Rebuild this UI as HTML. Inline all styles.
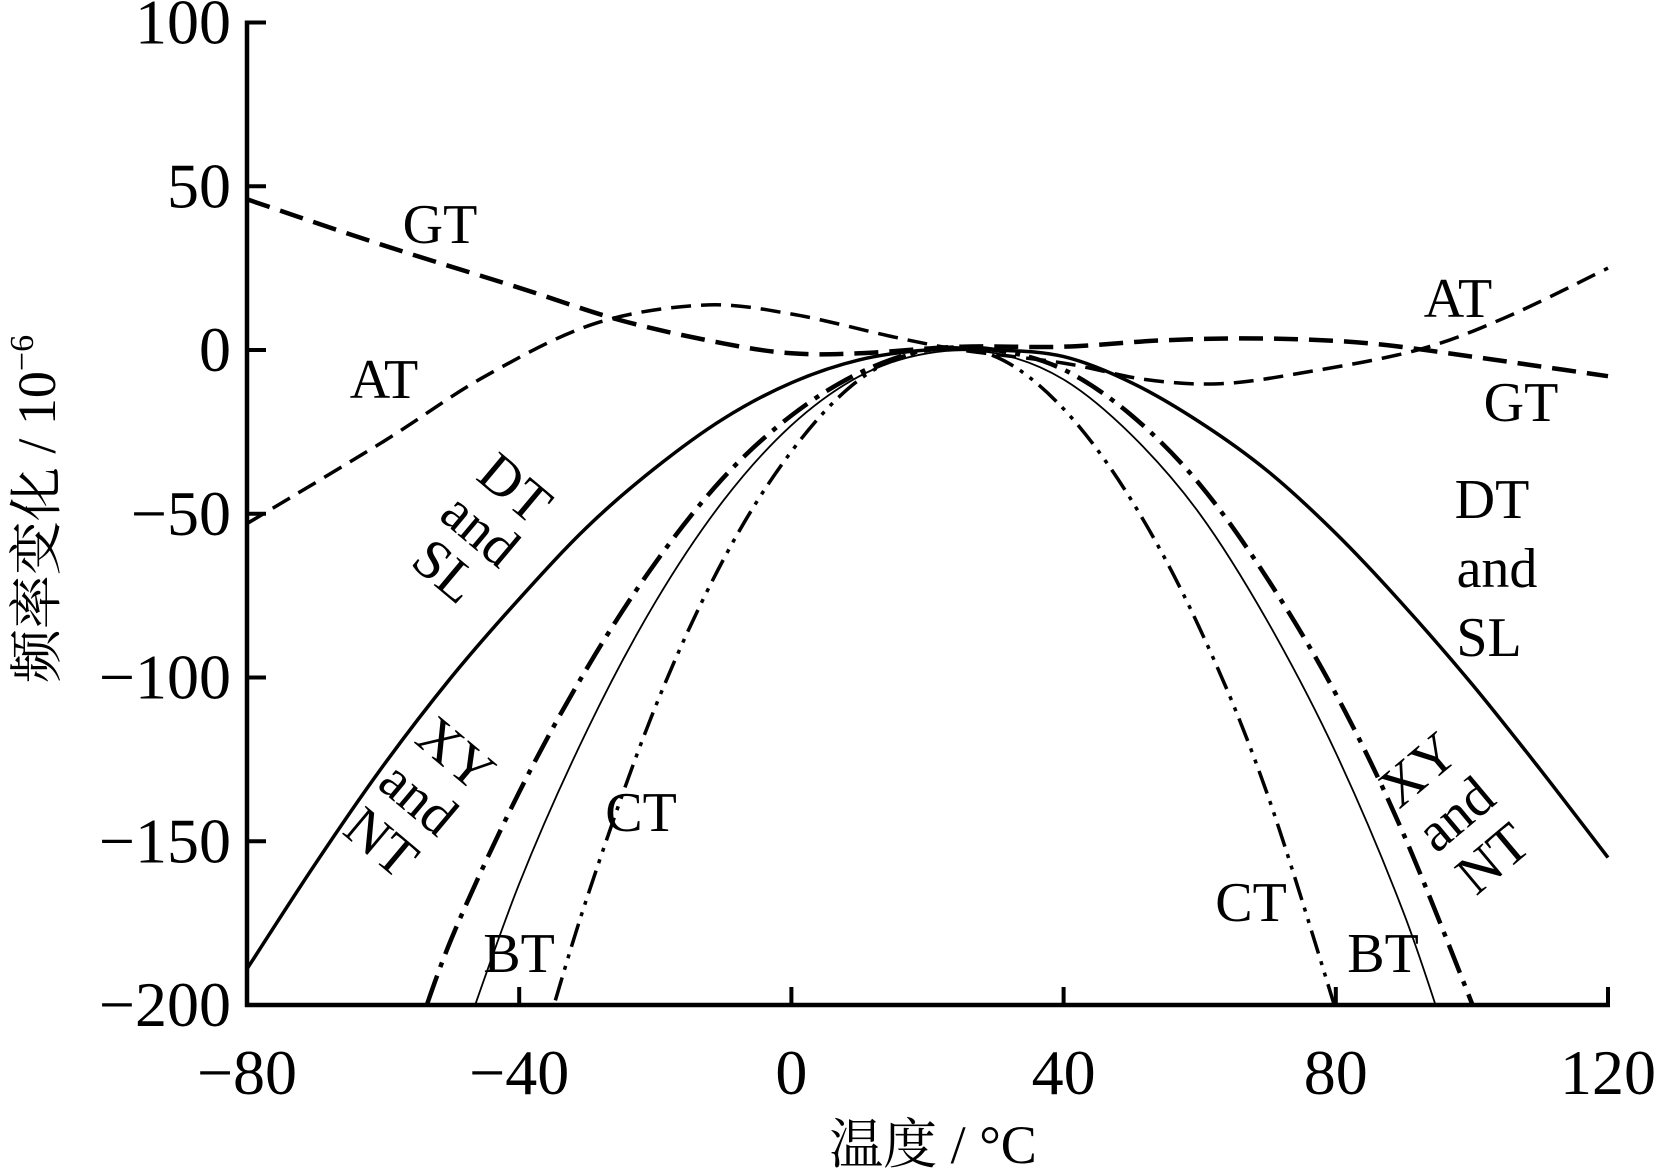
<!DOCTYPE html>
<html><head><meta charset="utf-8"><style>
html,body{margin:0;padding:0;background:#fff;}
svg{display:block;}
text{font-family:"Liberation Serif","Noto Serif CJK SC","Noto Sans CJK SC",serif;fill:#000;}
</style></head><body>
<svg id="chart" width="1660" height="1172" viewBox="0 0 1660 1172" xmlns="http://www.w3.org/2000/svg">
<defs><clipPath id="plotClip"><rect x="247" y="22" width="1363" height="983"/></clipPath></defs>
<g id="curves" clip-path="url(#plotClip)"></g>
<g id="axes"></g>
<g font-size="56">
<text x="440" y="243" text-anchor="middle">GT</text>
<text x="384" y="398" text-anchor="middle">AT</text>
<text x="1458" y="317" text-anchor="middle">AT</text>
<text x="1521" y="421" text-anchor="middle">GT</text>
<g transform="translate(480,530) rotate(40)">
<text x="0" y="-36" text-anchor="middle">DT</text><text x="0" y="18" text-anchor="middle">and</text><text x="0" y="72" text-anchor="middle">SL</text></g>
<g>
<text x="1492" y="518" text-anchor="middle">DT</text><text x="1497" y="587" text-anchor="middle">and</text><text x="1489" y="656" text-anchor="middle">SL</text></g>
<g transform="translate(417,800) rotate(40)">
<text x="0" y="-42" text-anchor="middle">XY</text><text x="0" y="16" text-anchor="middle">and</text><text x="0" y="74" text-anchor="middle">NT</text></g>
<g transform="translate(1457,816) rotate(-40)">
<text x="0" y="-42" text-anchor="middle">XY</text><text x="0" y="16" text-anchor="middle">and</text><text x="0" y="74" text-anchor="middle">NT</text></g>
<text x="641" y="831" text-anchor="middle">CT</text>
<text x="519" y="972" text-anchor="middle">BT</text>
<text x="1251" y="921" text-anchor="middle">CT</text>
<text x="1383" y="972" text-anchor="middle">BT</text>
</g>
<text font-size="54" text-anchor="middle" transform="translate(55,509) rotate(-90)">频率变化 / 10<tspan font-size="34" dy="-22">−6</tspan></text>
<text font-size="54" x="933" y="1163" text-anchor="middle">温度 / °C</text>
</svg>
<script>
const xTicks=[-80,-40,0,40,80,120];
const yTicks=[100,50,0,-50,-100,-150,-200];
const gtX=[-80,-60,-40,-25,-10,0,10,25,40,55,70,85,100,110,120];
const gtY=[46,32,19,9,2,-1,-1,1,1,3,3.5,2,-2,-5,-8];
const atX=[-80,-60,-45,-29,-13,0,15,25,40,52,63,75,92,105,120];
const atY=[-53,-28,-8,8,13.7,11,4,0,-4,-9,-10.3,-7,0,10,25];
const dtX=[-80,-70,-60,-50,-40,-30,-20,-10,0,10,20,30,40,50,60,70,80,90,100,110,120];
const dtY=[-189,-157,-127,-100,-76,-54,-36,-21,-10,-3,0,0,-2,-10,-22,-37,-56,-78,-102,-128,-155];
const xyX=[-56,-50,-40,-30,-20,-10,0,10,20,30,40,50,60,70,80,90,102];
const xyY=[-215,-180,-135,-97,-65,-39,-20,-7,0,0,-6,-20,-41,-70,-105,-148,-210];
const btX=[-49,-40,-30,-20,-10,0,10,20,30,40,50,60,70,80,90,97];
const btY=[-215,-163,-116,-77,-46,-23,-8,-1,-1,-9,-26,-50,-83,-123,-172,-215];
const ctX=[-37,-30,-20,-10,0,10,20,30,40,50,60,70,82];
const ctY=[-215,-167,-109,-64,-31,-9,0,-2,-18,-46,-85,-136,-215];

const X0=247,X1=1608,Y0=350,PY=3.275;
function sx(v){return X0+(v+80)*(X1-X0)/200;}
function sy(v){return Y0-v*PY;}
const NS="http://www.w3.org/2000/svg";
function pathD(xs,ys){
  const p=xs.map((x,i)=>[sx(x),sy(ys[i])]);
  let d="M"+p[0][0].toFixed(1)+","+p[0][1].toFixed(1);
  for(let i=0;i<p.length-1;i++){
    const a=p[i-1]||p[i],b=p[i],c=p[i+1],e=p[i+2]||c;
    const c1=[b[0]+(c[0]-a[0])/6,b[1]+(c[1]-a[1])/6];
    const c2=[c[0]-(e[0]-b[0])/6,c[1]-(e[1]-b[1])/6];
    d+=" C"+c1.map(v=>v.toFixed(1))+" "+c2.map(v=>v.toFixed(1))+" "+c.map(v=>v.toFixed(1));
  }
  return d;
}
const curves=document.getElementById("curves");
function addCurve(name,xs,ys,w,dash){
  const el=document.createElementNS(NS,"path");
  el.setAttribute("d",pathD(xs,ys));
  el.setAttribute("fill","none");
  el.setAttribute("stroke","#000");
  el.setAttribute("stroke-width",w);
  if(dash)el.setAttribute("stroke-dasharray",dash);
  
  
  curves.appendChild(el);
}
addCurve("curve-gt",gtX,gtY,4.5,"24 11");
addCurve("curve-at",atX,atY,3.5,"20 10");
addCurve("curve-dt-sl",dtX,dtY,3.5,null);
addCurve("curve-xy-nt",xyX,xyY,4.5,"30 9 5 9");
addCurve("curve-bt",btX,btY,1.8,null);
addCurve("curve-ct",ctX,ctY,3.5,"24 8 4 8 4 8");

const axes=document.getElementById("axes");
function line(name,x1,y1,x2,y2,w){
  const l=document.createElementNS(NS,"line");
  l.setAttribute("x1",x1);l.setAttribute("y1",y1);l.setAttribute("x2",x2);l.setAttribute("y2",y2);
  l.setAttribute("stroke","#000");l.setAttribute("stroke-width",w);
  
  
  axes.appendChild(l);
}
function txt(name,x,y,s,anchor){
  const t=document.createElementNS(NS,"text");
  t.setAttribute("x",x);t.setAttribute("y",y);t.setAttribute("font-size","64");
  t.setAttribute("text-anchor",anchor);
  t.textContent=s;
  
  
  axes.appendChild(t);
}
line("y-axis-line",X0,sy(100)-2,X0,sy(-200)+2,4.5);
line("x-axis-line",X0-2,sy(-200),X1+2,sy(-200),4.5);
yTicks.forEach(v=>{
  line("y-tick",X0,sy(v),X0+19,sy(v),4);
  txt("y-tick-label",231,sy(v)+21,String(v).replace("-","−"),"end");
});
xTicks.forEach(v=>{
  line("x-tick",sx(v),sy(-200),sx(v),sy(-200)-18,4);
  txt("x-tick-label",sx(v),1094,String(v).replace("-","−"),"middle");
});
</script>
</body></html>
